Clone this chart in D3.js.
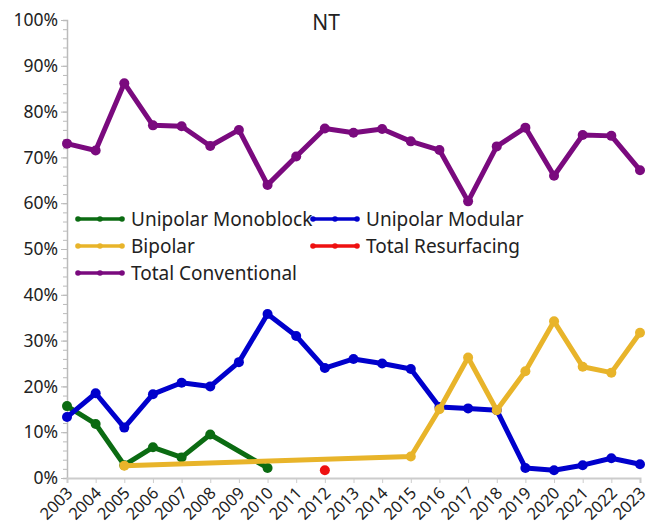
<!DOCTYPE html>
<html>
<head>
<meta charset="utf-8">
<script src="https://cdn.jsdelivr.net/npm/d3@7"></script>
<style>
  body { margin: 0; background: #fff; }
  text { font-family: "Noto Sans", "Open Sans", sans-serif; fill: #222; }
</style>
</head>
<body>
<div id="chart"></div>
<script>
// data, percent values per year (null = no value)
var years = d3.range(2003, 2024);
var monoblock = [15.7, 11.8, 2.8, 6.7, 4.5, 9.5, null, 2.2, null, null, null, null, null, null, null, null, null, null, null, null, null];
var modular = [13.3, 18.5, 11, 18.3, 20.8, 20, 25.3, 35.8, 31, 24, 26, 25, 23.8, 15.5, 15.2, 14.8, 2.2, 1.7, 2.8, 4.3, 3];
var bipolar = [null, null, 2.7, null, null, null, null, null, null, null, null, null, 4.7, 15, 26.3, 14.8, 23.3, 34.2, 24.3, 23, 31.7];
var resurfacing = [null, null, null, null, null, null, null, null, null, 1.7, null, null, null, null, null, null, null, null, null, null, null];
var conventional = [73, 71.5, 86.2, 77, 76.8, 72.5, 76, 64, 70.2, 76.3, 75.4, 76.2, 73.5, 71.6, 60.4, 72.4, 76.5, 66, 74.9, 74.7, 67.2];
var yTicks = [0, 10, 20, 30, 40, 50, 60, 70, 80, 90, 100];

var series = [
  {name: "Unipolar Monoblock", values: monoblock, color: "#0b6b12"},
  {name: "Unipolar Modular", values: modular, color: "#0000cc"},
  {name: "Bipolar", values: bipolar, color: "#e8b42a"},
  {name: "Total Resurfacing", values: resurfacing, color: "#ee1111"},
  {name: "Total Conventional", values: conventional, color: "#7a0a7e"}
];

var W = 657, H = 530;
var margin = {top: 20, right: 17, bottom: 52, left: 67};

var svg = d3.select("#chart").append("svg")
  .attr("width", W).attr("height", H);

var x = d3.scaleLinear().domain([2003, 2023]).range([margin.left, W - margin.right]);
var y = d3.scaleLinear().domain([0, 100]).range([H - margin.bottom, margin.top]);

// y axis with minor ticks
svg.append("g")
  .attr("transform", "translate(" + margin.left + ",0)")
  .call(d3.axisLeft(y).tickValues(d3.range(0, 101, 2)).tickSize(4).tickFormat(""))
  .call(function(g) {
    g.select(".domain").attr("stroke", "#bbb").attr("stroke-width", 1.5);
    g.selectAll(".tick line").attr("stroke", "#bbb");
  });
svg.append("g")
  .attr("transform", "translate(" + margin.left + ",0)")
  .call(d3.axisLeft(y).tickValues(yTicks).tickSize(6).tickPadding(3).tickFormat(function(d) { return d + "%"; }))
  .call(function(g) {
    g.select(".domain").remove();
    g.selectAll(".tick line").attr("stroke", "#bbb");
    g.selectAll(".tick text").style("font-size", "17.5px").attr("fill", "#222");
  });

// x axis
var xAxis = svg.append("g")
  .attr("transform", "translate(0," + (H - margin.bottom) + ")")
  .call(d3.axisBottom(x).tickValues(years).tickSize(5).tickFormat(d3.format("d")));
xAxis.select(".domain").attr("stroke", "#ccc").attr("stroke-width", 2);
xAxis.selectAll(".tick line").attr("stroke", "#ccc");
xAxis.selectAll(".tick text")
  .style("font-size", "16.5px")
  .attr("fill", "#222")
  .attr("text-anchor", "end")
  .attr("x", -7)
  .attr("y", 10)
  .attr("dx", 0)
  .attr("dy", "0.35em")
  .attr("transform", "rotate(-45)");

// title
svg.append("text")
  .attr("x", 326).attr("y", 30)
  .attr("text-anchor", "middle")
  .style("font-size", "21px")
  .text("NT");

var line = d3.line()
  .x(function(d) { return x(d.year); })
  .y(function(d) { return y(d.value); });

series.forEach(function(s) {
  var pts = years.map(function(yr, i) { return {year: yr, value: s.values[i]}; })
    .filter(function(d) { return d.value != null; });
  var g = svg.append("g");
  if (pts.length > 1) {
    g.append("path")
      .datum(pts)
      .attr("d", line)
      .attr("fill", "none")
      .attr("stroke", s.color)
      .attr("stroke-width", 5)
      .attr("stroke-linejoin", "round");
  }
  g.selectAll("circle")
    .data(pts)
    .enter()
    .append("circle")
    .attr("cx", function(d) { return x(d.year); })
    .attr("cy", function(d) { return y(d.value); })
    .attr("r", 5)
    .attr("fill", s.color);
});

// legend
var legendPos = [
  [78, 219], [313, 219],
  [78, 246], [313, 246],
  [78, 273]
];
series.forEach(function(s, i) {
  var p = legendPos[i];
  var lg = svg.append("g").attr("transform", "translate(" + p[0] + "," + p[1] + ")");
  lg.append("line")
    .attr("x1", 0).attr("x2", 44)
    .attr("stroke", s.color).attr("stroke-width", 3.5);
  [0, 22, 44].forEach(function(cx) {
    lg.append("circle").attr("cx", cx).attr("cy", 0).attr("r", 2.8).attr("fill", s.color);
  });
  lg.append("text")
    .attr("x", 53).attr("y", 0).attr("dy", "0.35em")
    .style("font-size", "19px")
    .text(s.name);
});
</script>
</body>
</html>
